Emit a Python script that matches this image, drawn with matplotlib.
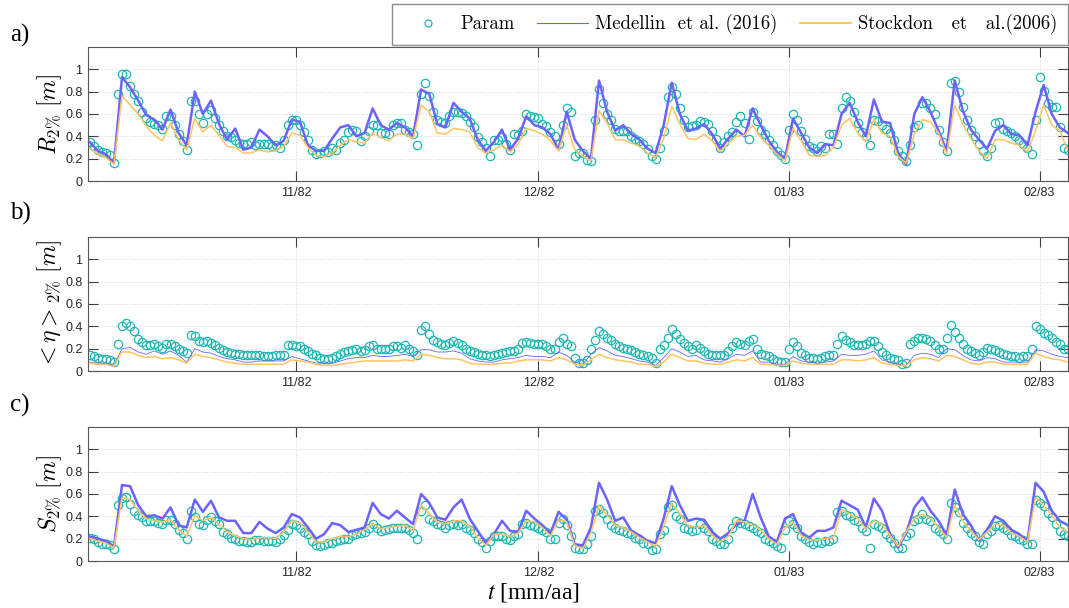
import numpy as np
import pandas as pd
import matplotlib
matplotlib.use('Agg')
import matplotlib.pyplot as plt
import matplotlib.dates as mdates
from matplotlib.lines import Line2D

# model curves: daily samples starting at noon, 6 Oct 1982
t = pd.date_range('1982-10-06 12:00', periods=122, freq='D')
# parametrisation: twice-daily samples over the same span
tp = pd.date_range('1982-10-06 12:00', periods=243, freq='12h')

# a) run-up R2%
r2_param = [.35, .31, .28, .26, .25, .23, .16, .78, .96, .96,
            .85, .78, .72, .62, .56, .53, .51, .50, .47, .58,
            .58, .50, .42, .36, .28, .72, .72, .60, .52, .60,
            .64, .56, .50, .45, .40, .39, .37, .34, .33, .33,
            .35, .32, .33, .33, .33, .31, .32, .30, .37, .50,
            .55, .55, .50, .44, .37, .28, .24, .25, .27, .26,
            .30, .28, .34, .37, .44, .46, .45, .36, .40, .45,
            .50, .50, .43, .43, .42, .50, .52, .52, .46, .44,
            .42, .32, .78, .88, .76, .62, .55, .53, .52, .58,
            .62, .62, .61, .58, .53, .48, .39, .35, .30, .22,
            .37, .37, .39, .33, .28, .42, .41, .45, .60, .58,
            .57, .56, .51, .49, .44, .40, .33, .50, .65, .62,
            .22, .25, .25, .19, .18, .55, .82, .70, .60, .55,
            .47, .45, .45, .45, .40, .38, .36, .33, .29, .22,
            .20, .30, .45, .75, .84, .78, .65, .55, .48, .49,
            .50, .54, .53, .51, .45, .38, .30, .35, .40, .44,
            .53, .58, .52, .38, .62, .54, .46, .42, .37, .32,
            .27, .23, .20, .46, .60, .55, .45, .38, .31, .30,
            .27, .31, .30, .42, .42, .33, .65, .75, .72, .62,
            .52, .44, .40, .32, .55, .54, .50, .47, .43, .37,
            .27, .22, .18, .32, .48, .50, .70, .70, .65, .60,
            .46, .35, .27, .88, .90, .80, .66, .55, .46, .40,
            .33, .27, .22, .30, .52, .53, .47, .45, .43, .40,
            .37, .33, .30, .24, .55, .93, .81, .70, .66, .66,
            .48, .30, .28]
r2_medellin = [.35, .27, .24, .16, .93, .84, .72, .59, .55, .46,
               .64, .43, .32, .80, .60, .72, .51, .37, .47, .28,
               .30, .46, .40, .32, .36, .55, .53, .32, .27, .27,
               .38, .48, .50, .40, .43, .65, .50, .46, .52, .48,
               .40, .82, .78, .51, .48, .70, .62, .56, .37, .27,
               .35, .46, .28, .38, .58, .50, .48, .42, .28, .62,
               .37, .27, .20, .90, .62, .45, .50, .42, .37, .29,
               .25, .50, .88, .60, .45, .47, .51, .42, .29, .38,
               .46, .40, .65, .50, .36, .26, .20, .56, .43, .30,
               .25, .33, .32, .60, .70, .53, .40, .73, .53, .52,
               .25, .15, .60, .75, .62, .45, .27, .90, .63, .46,
               .37, .29, .45, .50, .42, .41, .32, .62, .86, .60,
               .48, .43]
r2_stockdon = [.29, .24, .21, .15, .76, .68, .60, .49, .41, .36,
               .52, .37, .28, .56, .44, .50, .41, .31, .30, .25,
               .25, .28, .26, .27, .31, .43, .41, .30, .23, .22,
               .25, .32, .37, .35, .34, .43, .39, .36, .42, .42,
               .38, .68, .62, .43, .42, .47, .46, .44, .30, .25,
               .28, .32, .26, .33, .47, .45, .42, .36, .27, .50,
               .28, .22, .18, .63, .52, .37, .37, .34, .31, .25,
               .21, .38, .67, .51, .38, .37, .42, .36, .26, .34,
               .40, .41, .50, .39, .32, .24, .18, .47, .36, .23,
               .22, .23, .30, .50, .56, .43, .35, .55, .43, .40,
               .22, .16, .42, .55, .53, .43, .24, .68, .51, .38,
               .27, .20, .37, .37, .34, .32, .26, .45, .68, .50,
               .45, .27]

# b) setup <eta>2%
eta_param = [.14, .13, .12, .11, .11, .10, .08, .24, .40, .43,
             .40, .36, .29, .26, .23, .23, .24, .22, .21, .24,
             .24, .22, .20, .18, .16, .32, .31, .27, .26, .27,
             .25, .23, .21, .19, .17, .16, .15, .15, .14, .14,
             .14, .14, .14, .13, .13, .13, .14, .14, .14, .23,
             .23, .22, .22, .20, .18, .15, .14, .12, .11, .11,
             .12, .13, .15, .17, .18, .19, .20, .18, .19, .22,
             .23, .20, .20, .20, .20, .22, .22, .21, .23, .20,
             .18, .14, .37, .40, .33, .28, .26, .24, .23, .25,
             .27, .25, .23, .20, .18, .17, .15, .14, .14, .13,
             .14, .15, .16, .17, .18, .18, .20, .25, .26, .25,
             .24, .24, .24, .22, .20, .20, .26, .30, .24, .22,
             .12, .07, .07, .10, .20, .28, .36, .33, .30, .28,
             .24, .22, .21, .20, .19, .17, .15, .14, .13, .12,
             .07, .20, .23, .30, .38, .33, .29, .25, .22, .20,
             .23, .21, .18, .15, .14, .14, .14, .14, .18, .22,
             .26, .24, .23, .27, .29, .20, .15, .14, .13, .11,
             .09, .08, .08, .20, .26, .22, .16, .14, .12, .12,
             .11, .12, .13, .14, .14, .24, .31, .28, .26, .23,
             .23, .23, .24, .27, .27, .22, .17, .14, .12, .11,
             .10, .06, .07, .24, .27, .30, .30, .29, .27, .23,
             .20, .20, .30, .41, .35, .30, .24, .20, .18, .16,
             .14, .17, .21, .20, .19, .17, .15, .14, .13, .13,
             .12, .13, .13, .20, .40, .38, .34, .32, .30, .26,
             .24, .20, .20]
eta_medellin = [.08, .07, .07, .05, .20, .21, .17, .15, .18, .15,
                .18, .14, .08, .20, .17, .16, .13, .11, .10, .08,
                .08, .09, .09, .09, .09, .13, .11, .09, .07, .07,
                .07, .09, .11, .12, .12, .14, .13, .13, .14, .15,
                .13, .19, .19, .17, .17, .18, .16, .11, .09, .08,
                .08, .10, .11, .12, .14, .13, .13, .12, .17, .14,
                .08, .06, .15, .21, .18, .14, .13, .11, .09, .08,
                .05, .12, .20, .17, .13, .14, .10, .09, .08, .11,
                .15, .14, .18, .08, .08, .06, .06, .13, .09, .08,
                .07, .08, .09, .15, .14, .14, .15, .18, .10, .08,
                .06, .05, .14, .16, .15, .12, .20, .19, .14, .10,
                .09, .12, .11, .08, .08, .08, .08, .19, .18, .15,
                .13, .12]
eta_stockdon = [.07, .06, .06, .04, .17, .17, .14, .12, .13, .11,
                .12, .10, .07, .15, .13, .12, .10, .08, .07, .06,
                .06, .06, .06, .06, .06, .10, .09, .08, .06, .05,
                .05, .06, .07, .08, .09, .09, .09, .09, .09, .10,
                .09, .15, .14, .12, .11, .11, .10, .07, .06, .06,
                .06, .07, .07, .09, .10, .10, .10, .09, .12, .10,
                .06, .05, .10, .15, .12, .10, .09, .08, .06, .06,
                .04, .08, .15, .12, .09, .09, .07, .06, .06, .08,
                .10, .09, .12, .06, .06, .05, .05, .09, .07, .06,
                .06, .06, .06, .10, .10, .09, .10, .12, .07, .06,
                .05, .05, .10, .12, .11, .09, .14, .13, .10, .07,
                .06, .08, .08, .06, .06, .06, .06, .16, .13, .11,
                .10, .08]

# c) swash S2%
s2_param = [.21, .20, .17, .15, .15, .14, .11, .50, .56, .57,
            .51, .45, .41, .39, .36, .36, .36, .34, .33, .37,
            .37, .33, .28, .25, .20, .45, .39, .33, .32, .37,
            .39, .36, .33, .26, .24, .21, .20, .18, .18, .17,
            .17, .19, .19, .18, .18, .18, .17, .20, .23, .28,
            .33, .32, .30, .26, .24, .18, .14, .13, .14, .16,
            .16, .18, .19, .20, .20, .23, .24, .25, .26, .30,
            .33, .30, .27, .28, .29, .30, .30, .30, .30, .28,
            .25, .20, .45, .50, .38, .36, .33, .32, .30, .32,
            .33, .32, .33, .30, .28, .25, .20, .17, .12, .18,
            .22, .22, .22, .20, .19, .22, .24, .33, .34, .32,
            .31, .30, .28, .26, .20, .20, .34, .38, .32, .22,
            .12, .11, .11, .15, .22, .45, .47, .43, .38, .32,
            .30, .28, .27, .25, .24, .21, .20, .16, .15, .10,
            .11, .24, .28, .48, .50, .40, .38, .30, .29, .27,
            .28, .33, .30, .27, .20, .18, .15, .15, .20, .30,
            .36, .34, .33, .31, .30, .27, .25, .20, .18, .16,
            .13, .12, .28, .36, .33, .30, .22, .20, .17, .15,
            .17, .16, .18, .18, .20, .44, .45, .41, .40, .37,
            .36, .30, .27, .12, .33, .31, .30, .24, .21, .16,
            .12, .12, .22, .25, .36, .38, .42, .38, .36, .30,
            .27, .24, .20, .52, .48, .44, .34, .30, .25, .22,
            .17, .15, .24, .27, .31, .32, .30, .28, .23, .22,
            .20, .19, .15, .15, .55, .52, .49, .43, .39, .33,
            .27, .24, .22]
s2_medellin = [.22, .20, .18, .13, .68, .67, .50, .40, .41, .38,
               .48, .32, .30, .55, .44, .54, .39, .36, .36, .25,
               .25, .35, .29, .25, .30, .42, .39, .30, .20, .24,
               .34, .32, .26, .28, .30, .52, .42, .38, .45, .39,
               .33, .60, .52, .39, .37, .48, .55, .38, .27, .16,
               .24, .36, .27, .26, .45, .38, .32, .25, .44, .37,
               .15, .14, .30, .70, .55, .36, .39, .27, .23, .18,
               .16, .38, .67, .50, .36, .38, .37, .26, .20, .25,
               .33, .36, .60, .39, .22, .17, .38, .42, .25, .21,
               .27, .27, .30, .54, .50, .46, .30, .56, .45, .24,
               .12, .25, .48, .57, .45, .36, .23, .64, .42, .32,
               .18, .28, .40, .36, .28, .24, .18, .70, .62, .45,
               .36, .32]
s2_stockdon = [.20, .18, .16, .12, .57, .55, .45, .38, .36, .35,
               .37, .28, .22, .41, .36, .39, .33, .26, .23, .20,
               .19, .21, .21, .20, .26, .36, .34, .26, .17, .17,
               .20, .22, .22, .24, .28, .34, .29, .30, .31, .32,
               .27, .50, .42, .35, .33, .36, .36, .31, .21, .14,
               .24, .24, .22, .25, .36, .35, .30, .22, .37, .35,
               .14, .11, .25, .50, .41, .32, .30, .26, .21, .17,
               .13, .31, .52, .42, .32, .30, .32, .23, .17, .22,
               .36, .35, .32, .28, .20, .15, .30, .35, .23, .19,
               .19, .20, .21, .46, .42, .38, .29, .36, .33, .23,
               .13, .26, .38, .42, .38, .30, .21, .50, .36, .27,
               .19, .26, .33, .32, .25, .22, .17, .57, .50, .41,
               .30, .26]

panels = [
    ('a)', r'$R_{2\%}\ [m]$', r2_param, r2_medellin, r2_stockdon, 1.8),
    ('b)', r'$<\eta>_{2\%}\ [m]$', eta_param, eta_medellin, eta_stockdon, 0.6),
    ('c)', r'$S_{2\%}\ [m]$', s2_param, s2_medellin, s2_stockdon, 1.8),
]

c_param = '#1db7b4'
c_med = '#6c63ff'
c_stock = '#ffc462'

W, H = 1069, 608
fig = plt.figure(figsize=(W / 100, H / 100), dpi=100)

ax_tops = [47, 237, 427]
ax_h = 134
letter_y = [35, 213, 405]

x0 = t[0] - pd.Timedelta(hours=5)
x1 = t[0] + pd.Timedelta(days=120.95)

for (letter, ylab, p, m, s, mlw), top, ly in zip(panels, ax_tops, letter_y):
    ax = fig.add_axes([88 / W, 1 - (top + ax_h) / H, 979.5 / W, ax_h / H])
    ax.plot(tp, p, 'o', mfc='none', mec=c_param, ms=6, mew=0.9, zorder=2)
    ax.plot(t, m, '-', color=c_med, lw=mlw, zorder=3)
    ax.plot(t, s, '-', color=c_stock, lw=1.1, zorder=4)

    ax.set_xlim(x0, x1)
    ax.set_ylim(0, 1.2)
    ax.set_yticks([0, 0.2, 0.4, 0.6, 0.8, 1.0])
    ax.set_yticklabels(['0', '0.2', '0.4', '0.6', '0.8', '1'])
    ax.xaxis.set_major_locator(mdates.MonthLocator())
    ax.xaxis.set_major_formatter(mdates.DateFormatter('%m/%y'))

    ax.tick_params(direction='in', length=7, width=0.8, color='#404040',
                   labelsize=9, labelcolor='#262626',
                   top=True, right=True, pad=4)
    for lab in ax.get_xticklabels() + ax.get_yticklabels():
        lab.set_family('Liberation Sans')
    for sp in ax.spines.values():
        sp.set_color('#555555')
        sp.set_linewidth(0.8)
    ax.grid(True, color='#d4d4d4', ls=':', lw=0.7)
    ax.set_axisbelow(True)

    ax.set_ylabel(ylab, fontsize=17, math_fontfamily='cm')
    ax.yaxis.set_label_coords(-0.024, 0.5)

    fig.text(10 / W, 1 - ly / H, letter, fontsize=18, family='Liberation Serif',
             va='center', ha='left')

fig.text(533 / W, 1 - 592 / H, r'$t$ [mm/aa]', fontsize=17,
         family='Liberation Serif', math_fontfamily='stix', ha='center', va='center')

handles = [
    Line2D([], [], ls='none', marker='o', mfc='none', mec=c_param, ms=5, mew=0.9),
    Line2D([], [], color=c_med, lw=0.8),
    Line2D([], [], color=c_stock, lw=1.4),
]
labels = ['Param', 'Medellin  et al. (2016)', 'Stockdon   et   al.(2006)']
fig.legend(handles, labels, loc='upper right', bbox_to_anchor=(1068 / W, 1 - 4 / H),
           ncol=3, frameon=True, fancybox=False, edgecolor='#707070',
           prop={'family': 'cmr10', 'size': 13.5}, handlelength=2.7,
           handletextpad=0.4, columnspacing=1.2, borderpad=0.55, borderaxespad=0)

fig.savefig('out.png', dpi=100)
